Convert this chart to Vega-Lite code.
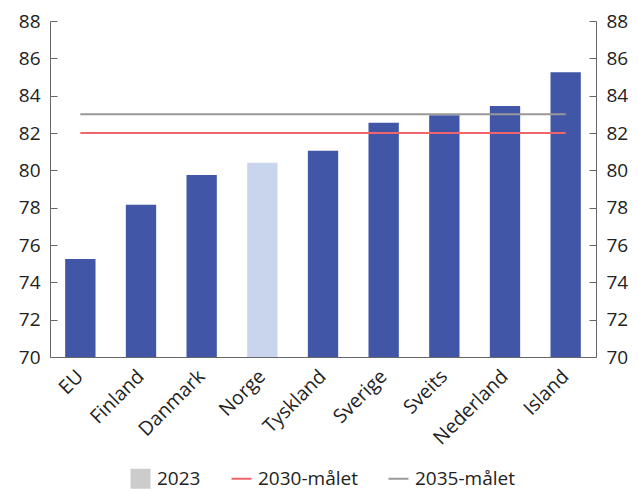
{
  "$schema": "https://vega.github.io/schema/vega-lite/v6.json",
  "width": 546,
  "height": 336,
  "autosize": {"type": "none"},
  "padding": {"left": 50, "top": 21, "right": 42, "bottom": 135},
  "config": {
    "font": "Open Sans",
    "view": {"stroke": null},
    "axis": {
      "labelFont": "Open Sans",
      "labelFontSize": 19,
      "labelColor": "#222222",
      "domainColor": "#666666",
      "tickColor": "#666666",
      "grid": false,
      "title": null
    },
    "legend": {
      "labelFont": "Open Sans",
      "labelFontSize": 19,
      "labelColor": "#222222"
    }
  },
  "datasets": {
    "bars": [
      {"land": "EU", "verdi": 75.25},
      {"land": "Finland", "verdi": 78.15},
      {"land": "Danmark", "verdi": 79.75},
      {"land": "Norge", "verdi": 80.4},
      {"land": "Tyskland", "verdi": 81.05},
      {"land": "Sverige", "verdi": 82.55},
      {"land": "Sveits", "verdi": 82.95},
      {"land": "Nederland", "verdi": 83.45},
      {"land": "Island", "verdi": 85.25}
    ],
    "maal": [
      {"land": "EU", "verdi": 82, "serie": "2030-målet"},
      {"land": "Island", "verdi": 82, "serie": "2030-målet"},
      {"land": "EU", "verdi": 83, "serie": "2035-målet"},
      {"land": "Island", "verdi": 83, "serie": "2035-målet"}
    ]
  },
  "layer": [
    {
      "data": {"name": "bars"},
      "mark": {"type": "bar"},
      "encoding": {
        "x": {
          "field": "land",
          "type": "nominal",
          "sort": ["EU", "Finland", "Danmark", "Norge", "Tyskland", "Sverige", "Sveits", "Nederland", "Island"],
          "scale": {"paddingInner": 0.5, "paddingOuter": 0.25},
          "axis": {
            "labelAngle": -45,
            "labelAlign": "right",
            "labelBaseline": "middle",
            "labelFontSize": 19.5,
            "ticks": false,
            "labelPadding": 16,
            "domainColor": "#666666"
          }
        },
        "y": {
          "field": "verdi",
          "type": "quantitative",
          "scale": {"domain": [70, 88], "nice": false, "zero": false},
          "axis": {"values": [70, 72, 74, 76, 78, 80, 82, 84, 86, 88], "tickSize": -7, "labelPadding": 17, "orient": "left"}
        },
        "y2": {"datum": 70},
        "color": {
          "condition": {"test": "datum.land === 'Norge'", "value": "#c8d5ec"},
          "value": "#4156a6"
        }
      }
    },
    {
      "data": {"name": "maal"},
      "mark": {"type": "line", "strokeWidth": 2},
      "encoding": {
        "x": {"field": "land", "type": "nominal", "sort": ["EU", "Finland", "Danmark", "Norge", "Tyskland", "Sverige", "Sveits", "Nederland", "Island"]},
        "y": {
          "field": "verdi",
          "type": "quantitative",
          "axis": {"values": [70, 72, 74, 76, 78, 80, 82, 84, 86, 88], "tickSize": -7, "labelPadding": 17, "orient": "right"}
        },
        "color": {
          "field": "serie",
          "type": "nominal",
          "scale": {
            "domain": ["2023", "2030-målet", "2035-målet"],
            "range": ["#cccccc", "#f0646e", "#999999"]
          },
          "legend": {
            "title": null,
            "orient": "none",
            "direction": "horizontal",
            "legendX": 81,
            "legendY": 448,
            "padding": 0,
            "symbolSize": 400,
            "symbolStrokeWidth": 2,
            "labelOffset": 7,
            "columnPadding": 26,
            "encode": {
              "symbols": {
                "update": {
                  "shape": {"signal": "datum.value === '2023' ? 'square' : 'stroke'"},
                  "fill": {"signal": "datum.value === '2023' ? '#cccccc' : 'transparent'"},
                  "fillOpacity": {"value": 1},
                  "strokeWidth": {"signal": "datum.value === '2023' ? 0 : 2"}
                }
              }
            }
          }
        }
      }
    }
  ],
  "resolve": {"scale": {"y": "shared"}, "axis": {"y": "independent"}}
}
